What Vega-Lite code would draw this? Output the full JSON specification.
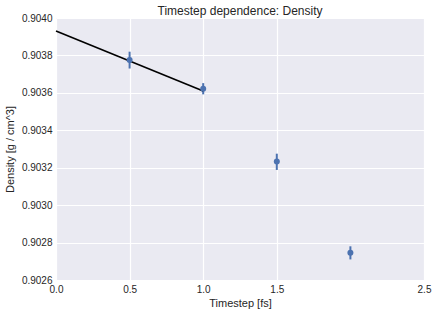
{
  "$schema": "https://vega.github.io/schema/vega-lite/v6.json",
  "width": 368,
  "height": 262,
  "autosize": {"type": "none"},
  "padding": {"left": 56, "top": 18, "right": 12, "bottom": 35},
  "background": "white",
  "title": {"text": "Timestep dependence: Density", "font": "Liberation Sans", "fontSize": 12, "fontWeight": "normal", "color": "#262626", "offset": -5, "anchor": "middle"},
  "config": {
    "view": {"fill": "#EAEAF2", "stroke": null},
    "axis": {
      "domain": false, "ticks": false, "gridColor": "white", "gridWidth": 1.2,
      "labelFont": "Liberation Sans", "labelFontSize": 10, "labelColor": "#262626",
      "labelOverlap": false, "labelFlush": false, "labelBound": false,
      "titleFont": "Liberation Sans", "titleFontSize": 11, "titleFontWeight": "normal", "titleColor": "#262626"
    }
  },
  "datasets": {
    "pts": [
      {"t": 0.5, "rho": 0.903775, "lo": 0.90373, "hi": 0.90382},
      {"t": 1.0, "rho": 0.903622, "lo": 0.903592, "hi": 0.903652},
      {"t": 1.5, "rho": 0.903233, "lo": 0.903188, "hi": 0.903275},
      {"t": 2.0, "rho": 0.902745, "lo": 0.90271, "hi": 0.90278}
    ],
    "fit": [
      {"t": 0.0, "rho": 0.90393},
      {"t": 1.0, "rho": 0.90361}
    ]
  },
  "layer": [
    {
      "data": {"name": "pts"},
      "mark": {"type": "rule", "color": "#4C72B0", "strokeWidth": 2},
      "encoding": {
        "x": {"field": "t", "type": "quantitative", "scale": {"domain": [0, 2.5], "nice": false},
              "axis": {"values": [0, 0.5, 1.0, 1.5, 2.5], "tickCount": 10, "format": ".1f", "title": "Timestep [fs]", "labelPadding": 4, "titlePadding": 3}},
        "y": {"field": "lo", "type": "quantitative", "scale": {"domain": [0.9026, 0.904], "nice": false, "zero": false},
              "axis": {"values": [0.9026, 0.9028, 0.903, 0.9032, 0.9034, 0.9036, 0.9038, 0.904], "tickCount": 10, "format": ".4f", "title": "Density [g / cm^3]", "labelPadding": 4, "titlePadding": 6}},
        "y2": {"field": "hi"}
      }
    },
    {
      "data": {"name": "fit"},
      "mark": {"type": "line", "color": "black", "strokeWidth": 1.6},
      "encoding": {
        "x": {"field": "t", "type": "quantitative"},
        "y": {"field": "rho", "type": "quantitative"}
      }
    },
    {
      "data": {"name": "pts"},
      "mark": {"type": "point", "filled": true, "color": "#4C72B0", "opacity": 1, "size": 36},
      "encoding": {
        "x": {"field": "t", "type": "quantitative"},
        "y": {"field": "rho", "type": "quantitative"}
      }
    }
  ]
}
